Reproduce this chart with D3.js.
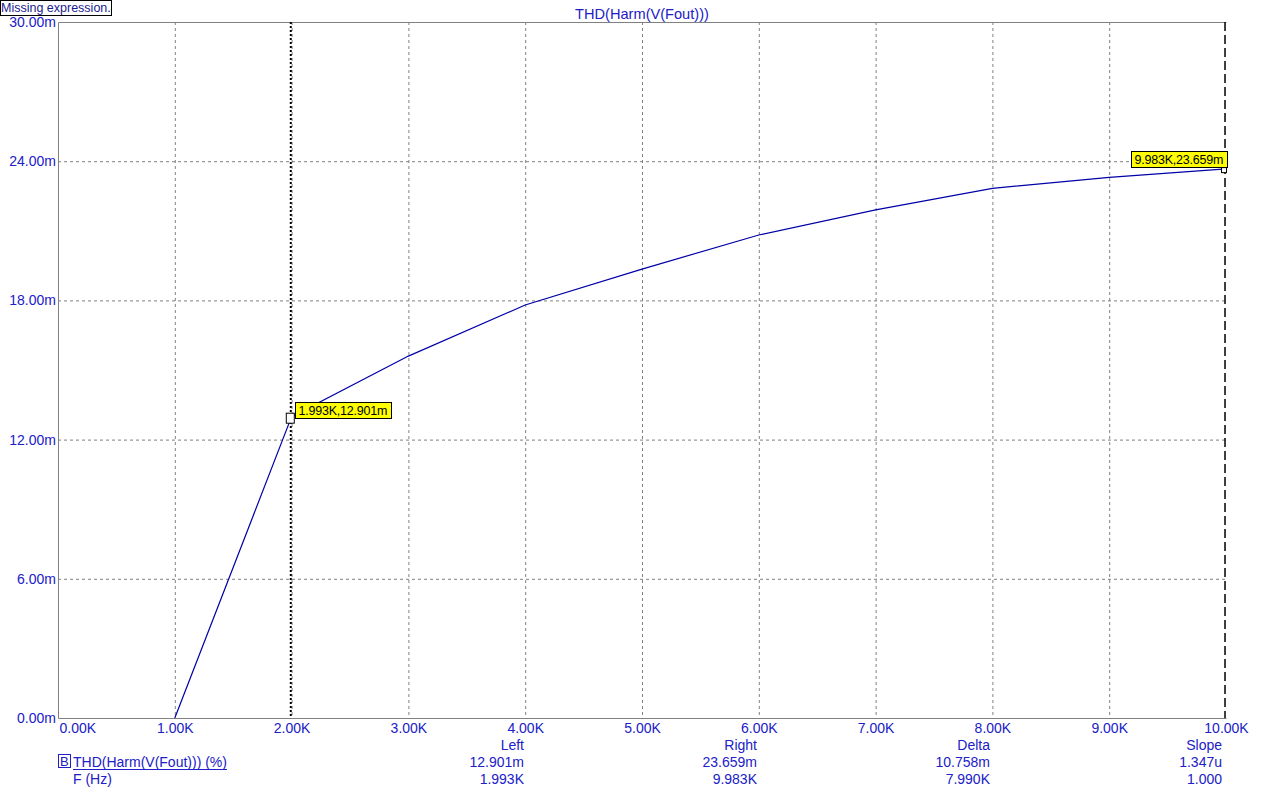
<!DOCTYPE html>
<html><head><meta charset="utf-8">
<script src="https://cdn.jsdelivr.net/npm/d3@7"></script>
<style>
html,body{margin:0;padding:0;background:#fff;}
svg{display:block;font-family:"Liberation Sans",Arial,sans-serif;}
</style></head>
<body>
<script>
// ---- data ----
const chartTitle = "THD(Harm(V(Fout)))";
const freqK = [1, 2, 3, 4, 5, 6, 7, 8, 9, 10];
const thdM = [0, 12.99, 15.60, 17.80, 19.35, 20.82, 21.90, 22.83, 23.30, 23.665];
const xTicks = [0,1,2,3,4,5,6,7,8,9,10];
const xTickLabels = ["0.00K","1.00K","2.00K","3.00K","4.00K","5.00K","6.00K","7.00K","8.00K","9.00K","10.00K"];
const yTicks = [0,6,12,18,24,30];
const yTickLabels = ["0.00m","6.00m","12.00m","18.00m","24.00m","30.00m"];
const cursorX = [1.993, 9.983];
const cursorY = [12.901, 23.659];
const cursorLabels = ["1.993K,12.901m", "9.983K,23.659m"];
const legendHeaders = ["Left","Right","Delta","Slope"];
const legendRow1 = ["12.901m","23.659m","10.758m","1.347u"];
const legendRow2 = ["1.993K","9.983K","7.990K","1.000"];
const legendNames = ["THD(Harm(V(Fout))) (%)", "F (Hz)"];

// ---- drawing ----
const W = 1267, H = 801;
const L = 58, R = 1226, T = 22, B = 718;
const blue = "#2020c8";
const svg = d3.select("body").append("svg").attr("width", W).attr("height", H);
const x = d3.scaleLinear().domain([0, 10]).range([L, R]);
const y = d3.scaleLinear().domain([0, 30]).range([B, T]);

// grid
const g = svg.append("g");
g.selectAll("line.vx").data(xTicks.slice(1, -1)).join("line")
  .attr("x1", d => x(d) + 0.5).attr("x2", d => x(d) + 0.5).attr("y1", T).attr("y2", B)
  .attr("stroke", "#808080").attr("stroke-dasharray", "3,3");
g.selectAll("line.hy").data(yTicks.slice(1, -1)).join("line")
  .attr("x1", L).attr("x2", R).attr("y1", d => y(d) + 0.5).attr("y2", d => y(d) + 0.5)
  .attr("stroke", "#808080").attr("stroke-dasharray", "3,3");

// frame
svg.append("path").attr("d", `M${L+0.5},${T+0.5}H${R+0.5}M${L+0.5},${T+0.5}V${B+0.5}H${R+0.5}`)
  .attr("stroke", "#808080").attr("fill", "none");

// axes labels via d3 axes
const xAxis = svg.append("g").attr("transform", `translate(0,${B})`)
  .call(d3.axisBottom(x).tickValues(xTicks).tickSize(0).tickPadding(5)
    .tickFormat((d, i) => xTickLabels[i]));
xAxis.select(".domain").remove();
xAxis.selectAll("text").attr("fill", blue).attr("font-size", 14)
  .attr("font-family", "Liberation Sans, Arial, sans-serif")
  .attr("text-anchor", (d, i) => i === 0 ? "start" : "middle")
  .attr("dx", (d, i) => i === 0 ? 1 : 0);

const yAxis = svg.append("g").attr("transform", `translate(${L},0)`)
  .call(d3.axisLeft(y).tickValues(yTicks).tickSize(0).tickPadding(2)
    .tickFormat((d, i) => yTickLabels[i]));
yAxis.select(".domain").remove();
yAxis.selectAll("text").attr("fill", blue).attr("font-size", 14)
  .attr("font-family", "Liberation Sans, Arial, sans-serif");

// title
svg.append("text").attr("x", (L + R) / 2).attr("y", 19).attr("text-anchor", "middle")
  .attr("fill", blue).attr("font-size", 14.6).text(chartTitle);

// missing expression box
svg.append("rect").attr("x", 0.5).attr("y", 0.5).attr("width", 111).attr("height", 15)
  .attr("fill", "#fff").attr("stroke", "#000");
svg.append("text").attr("x", 1).attr("y", 12).attr("fill", "#1a1a90").attr("font-size", 12.5)
  .text("Missing expression.");

// cursors
svg.append("line").attr("x1", x(cursorX[0])).attr("x2", x(cursorX[0]))
  .attr("y1", T).attr("y2", B).attr("stroke", "#000").attr("stroke-width", 2)
  .attr("stroke-dasharray", "2,2");
svg.append("line").attr("x1", x(cursorX[1]) + 1).attr("x2", x(cursorX[1]) + 1)
  .attr("y1", T).attr("y2", B).attr("stroke", "#000").attr("stroke-width", 1.5)
  .attr("stroke-dasharray", "9,4");

// data line
const line = d3.line().x((d, i) => x(freqK[i])).y(d => y(d));
svg.append("path").datum(thdM).attr("d", line).attr("fill", "none")
  .attr("stroke", "#0000a8").attr("stroke-width", 1.2);

// cursor markers
svg.append("rect").attr("x", x(cursorX[0]) - 4.5).attr("y", y(cursorY[0]) - 5.5)
  .attr("width", 8).attr("height", 10).attr("fill", "#fff").attr("stroke", "#000");
svg.append("rect").attr("x", x(cursorX[1]) - 2.5).attr("y", y(cursorY[1]) - 1.5)
  .attr("width", 5).attr("height", 5).attr("fill", "#fff").attr("stroke", "#000");

// cursor labels
const lblOff = [[4, -17], [-93, -18]];
cursorLabels.forEach((t, i) => {
  const bx = Math.round(x(cursorX[i]) + lblOff[i][0]) + 0.5;
  const by = Math.round(y(cursorY[i]) + lblOff[i][1]) + 0.5;
  svg.append("rect").attr("x", bx).attr("y", by).attr("width", 96).attr("height", 16)
    .attr("fill", "#ffff00").attr("stroke", "#000");
  svg.append("text").attr("x", bx + 3).attr("y", by + 12.5).attr("fill", "#000")
    .attr("font-size", 12.5).attr("textLength", 89).text(t);
});

// legend
const colRight = [524, 757, 990, 1222];
legendHeaders.forEach((h, i) => {
  svg.append("text").attr("x", colRight[i]).attr("y", 750).attr("text-anchor", "end")
    .attr("fill", blue).attr("font-size", 14).text(h);
  svg.append("text").attr("x", colRight[i]).attr("y", 767).attr("text-anchor", "end")
    .attr("fill", blue).attr("font-size", 14).text(legendRow1[i]);
  svg.append("text").attr("x", colRight[i]).attr("y", 784).attr("text-anchor", "end")
    .attr("fill", blue).attr("font-size", 14).text(legendRow2[i]);
});
svg.append("rect").attr("x", 58.5).attr("y", 754.5).attr("width", 12).attr("height", 13)
  .attr("fill", "none").attr("stroke", blue);
svg.append("text").attr("x", 60).attr("y", 766).attr("fill", blue).attr("font-size", 13).text("B");
const nm = svg.append("text").attr("x", 73).attr("y", 767).attr("fill", blue).attr("font-size", 14)
  .text(legendNames[0]);
const bb = nm.node().getBBox();
svg.append("line").attr("x1", 73).attr("x2", 73 + bb.width).attr("y1", 769.5).attr("y2", 769.5)
  .attr("stroke", blue);
svg.append("text").attr("x", 73).attr("y", 784).attr("fill", blue).attr("font-size", 14)
  .text(legendNames[1]);
</script>
</body></html>
